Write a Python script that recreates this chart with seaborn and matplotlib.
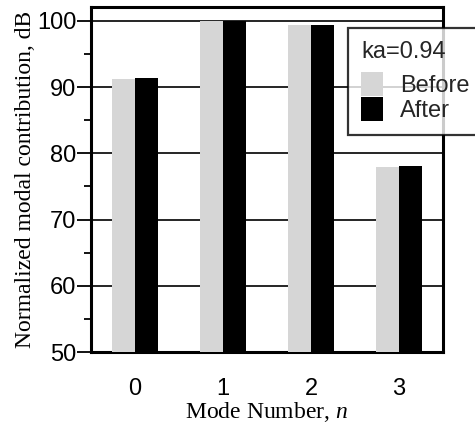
import matplotlib
matplotlib.use("Agg")
import matplotlib.pyplot as plt
import seaborn as sns
import pandas as pd
from matplotlib.ticker import MultipleLocator

modes = ["0", "1", "2", "3"]
before = [91.2, 100.0, 99.3, 77.9]
after = [91.4, 100.0, 99.4, 78.1]
series = ["Before", "After"]
yticks = [50, 60, 70, 80, 90, 100]

df = pd.DataFrame({
    "mode": modes * 2,
    "value": before + after,
    "state": [series[0]] * len(modes) + [series[1]] * len(modes),
})

sns.set_theme(style="white")
plt.rcParams["font.family"] = ["Liberation Sans", "DejaVu Sans"]
plt.rcParams["mathtext.fontset"] = "custom"
plt.rcParams["mathtext.rm"] = "Liberation Serif"
plt.rcParams["mathtext.it"] = "Liberation Serif:italic"

fig = plt.figure(figsize=(4.75, 4.26), dpi=100)
ax = fig.add_axes([0.1916, 0.1737, 0.741, 0.810])

sns.barplot(data=df, x="mode", y="value", hue="state", hue_order=series,
            palette={"Before": "#d6d6d6", "After": "#000000"},
            width=0.53, ax=ax, zorder=3, linewidth=0, saturation=1)

ax.set_ylim(50, 102.1)
ax.set_xlim(-0.5, 3.5)
ax.set_yticks(yticks)
ax.yaxis.set_minor_locator(MultipleLocator(5))
ax.grid(axis="y", color="black", linewidth=1.2, zorder=0)
ax.set_axisbelow(True)

for s in ax.spines.values():
    s.set_color("black")
    s.set_linewidth(2.2)

ax.tick_params(axis="y", which="major", direction="out", length=10, width=1.3,
               color="black", left=True, pad=0.5, labelsize=17, labelcolor="black")
ax.tick_params(axis="y", which="minor", direction="out", length=5, width=1.3,
               color="black", left=True)
ax.tick_params(axis="x", length=0, pad=19, labelsize=17, labelcolor="black")

ax.set_ylabel("Normalized modal contribution, dB", family="Liberation Serif",
              fontsize=17, color="black", labelpad=1)
ax.set_xlabel("Mode Number, $n$", family="Liberation Serif", fontsize=17,
              color="black", labelpad=0)

leg = ax.legend(title="ka=0.94", loc="upper left", bbox_to_anchor=(0.73, 0.94),
                borderaxespad=0, fontsize=17, title_fontsize=17, frameon=True,
                fancybox=False, borderpad=0.55, labelspacing=0.0,
                handlelength=0.93, handleheight=1.15, handletextpad=0.72,
                alignment="left")
leg._legend_box.sep = 7
leg.get_frame().set_edgecolor("black")
leg.get_frame().set_linewidth(1.6)
leg.set_zorder(5)

fig.savefig("out.png", dpi=100)
